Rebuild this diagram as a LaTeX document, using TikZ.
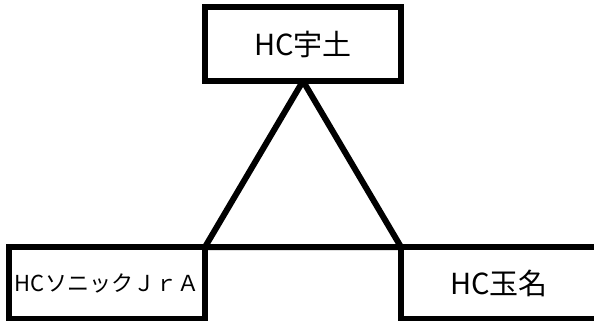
\documentclass[tikz,border=0pt]{standalone}
\usepackage{fontspec}
\newfontfamily\jpfont{Noto Sans CJK JP}
\usetikzlibrary{trees}

\begin{document}
\begin{tikzpicture}[x=1pt, y=-1pt, line width=6pt,
  level distance=239pt, sibling distance=392pt,
  edge from parent/.style={draw=none},
  club/.style={shape=rectangle, draw, align=center, outer sep=0pt, inner sep=0pt,
    minimum width=196pt, minimum height=72pt, font=\jpfont\fontsize{29}{32}\selectfont}]
\useasboundingbox (0,0) rectangle (594,321);
\clip (0,0) rectangle (594,321);
\node[club, minimum height=74pt] (uto) at (303,44) {HC宇土}
  child { node[club, font=\jpfont\fontsize{22}{25}\selectfont] (sonic) {HCソニックＪｒＡ} }
  child { node[club] (tamana) {HC玉名} };
\draw[line join=bevel] (uto.south) -- (sonic.north east) -- (tamana.north west) -- cycle;
\end{tikzpicture}
\end{document}
